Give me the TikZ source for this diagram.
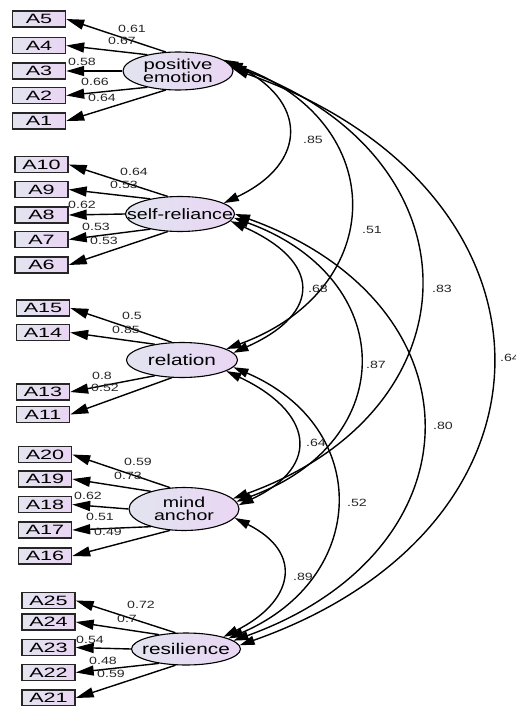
\documentclass[tikz,border=0pt]{standalone}
\usepackage{fontspec}
\setmainfont{Liberation Sans}
\usetikzlibrary{shapes.geometric,arrows.meta}
\newcommand\hs[2]{\scalebox{#1}[1]{#2}}
\definecolor{indL}{RGB}{228,228,240}
\definecolor{indR}{RGB}{233,213,243}
\definecolor{latL}{RGB}{226,228,240}
\definecolor{latR}{RGB}{234,214,244}
\tikzset{
  ind/.style={draw=black!85, line width=1.4pt, left color=indL, right color=indR,
    minimum width=53pt, minimum height=16pt, inner sep=0pt,
    font=\fontsize{13.5}{13}\selectfont},
  lat/.style={ellipse, draw=black, line width=1.1pt, left color=latL, right color=latR, inner sep=0pt},
  lattext/.style={inner sep=0pt, align=center, font=\fontsize{14.5}{14}\selectfont},
  load/.style={line width=1.4pt, -{Triangle[length=18pt,width=10pt]}},
  cov/.style={line width=1.4pt, {Triangle[length=15pt,width=9pt]}-{Triangle[length=15pt,width=9pt]}},
  lbl/.style={inner sep=0pt, font=\fontsize{10.5}{12}\selectfont, text=black!85},
}
\begin{document}
\begin{tikzpicture}[x=1pt, y=-1pt]
\useasboundingbox (0,0) rectangle (515,706);

% latent variables
\node[lat, minimum width=110pt, minimum height=38pt] (pe) at (178,71) {};
\node[lattext] (pe-t) at (pe) {\hs{1.4}{positive}\\[-0.5pt]\hs{1.35}{emotion}};
\node[lat, minimum width=109pt, minimum height=35pt] (sr) at (180,214) {};
\node[lattext, font=\fontsize{15}{15}\selectfont] (sr-t) at (sr) {\hs{1.31}{self-reliance}};
\node[lat, minimum width=111pt, minimum height=35pt] (rel) at (182,360) {};
\node[lattext, font=\fontsize{15.5}{15}\selectfont] (rel-t) at (rel) {\hs{1.34}{relation}};
\node[lat, minimum width=110pt, minimum height=43pt] (ma) at (184,509) {};
\node[lattext] (ma-t) at (ma) {\hs{1.35}{mind}\\[-0.5pt]\hs{1.35}{anchor}};
\node[lat, minimum width=109pt, minimum height=32pt] (res) at (186,649) {};
\node[lattext, font=\fontsize{15.5}{15}\selectfont] (res-t) at (res) {\hs{1.34}{resilience}};

% indicators
\node[ind] (a5) at (39,19) {\hs{1.6}{A5}};
\node[ind] (a4) at (39,45.5) {\hs{1.6}{A4}};
\node[ind] (a3) at (39,71) {\hs{1.6}{A3}};
\node[ind] (a2) at (39,95.5) {\hs{1.6}{A2}};
\node[ind] (a1) at (39,121) {\hs{1.6}{A1}};

\node[ind] (a10) at (41.5,164.5) {\hs{1.6}{A10}};
\node[ind] (a9) at (41.5,189.5) {\hs{1.6}{A9}};
\node[ind] (a8) at (41.5,215) {\hs{1.6}{A8}};
\node[ind] (a7) at (41.5,239.5) {\hs{1.6}{A7}};
\node[ind] (a6) at (41.5,265) {\hs{1.6}{A6}};

\node[ind] (a15) at (43,308) {\hs{1.6}{A15}};
\node[ind] (a14) at (43,332.5) {\hs{1.6}{A14}};
\node[ind] (a13) at (43,392) {\hs{1.6}{A13}};
\node[ind] (a11) at (43,414.5) {\hs{1.6}{A11}};

\node[ind] (a20) at (45,454.5) {\hs{1.6}{A20}};
\node[ind] (a19) at (45,479) {\hs{1.6}{A19}};
\node[ind] (a18) at (45,504.5) {\hs{1.6}{A18}};
\node[ind] (a17) at (45,530) {\hs{1.6}{A17}};
\node[ind] (a16) at (45,556) {\hs{1.6}{A16}};

\node[ind] (a25) at (48.5,600.5) {\hs{1.6}{A25}};
\node[ind] (a24) at (48.5,622) {\hs{1.6}{A24}};
\node[ind] (a23) at (48.5,647.5) {\hs{1.6}{A23}};
\node[ind] (a22) at (48.5,672.5) {\hs{1.6}{A22}};
\node[ind] (a21) at (48.5,698) {\hs{1.6}{A21}};

% factor loadings
\draw[load] (pe.123) -- (a5.east);
\draw[load] (pe.152) -- (a4.east);
\draw[load] (pe.180) -- (a3.east);
\draw[load] (pe.208) -- (a2.east);
\draw[load] (pe.237) -- (a1.east);

\draw[load] (sr.125) -- (a10.east);
\draw[load] (sr.153) -- (a9.east);
\draw[load] (sr.180) -- (a8.east);
\draw[load] (sr.207) -- (a7.east);
\draw[load] (sr.235) -- (a6.east);

\draw[load] (rel.120) -- (a15.east);
\draw[load] (rel.150) -- (a14.east);
\draw[load] (rel.210) -- (a13.east);
\draw[load] (rel.240) -- (a11.east);

\draw[load] (ma.123) -- (a20.east);
\draw[load] (ma.152) -- (a19.east);
\draw[load] (ma.180) -- (a18.east);
\draw[load] (ma.208) -- (a17.east);
\draw[load] (ma.237) -- (a16.east);

\draw[load] (res.123) -- (a25.east);
\draw[load] (res.152) -- (a24.east);
\draw[load] (res.180) -- (a23.east);
\draw[load] (res.208) -- (a22.east);
\draw[load] (res.237) -- (a21.east);

% loading values
\node[lbl] (l5) at (132,29) {\hs{1.35}{0.61}};
\node[lbl] (l4) at (122,41) {\hs{1.35}{0.67}};
\node[lbl] (l3) at (82,62) {\hs{1.35}{0.58}};
\node[lbl] (l2) at (95,82) {\hs{1.35}{0.66}};
\node[lbl] (l1) at (102,98) {\hs{1.35}{0.64}};

\node[lbl] (l10) at (134,172) {\hs{1.35}{0.64}};
\node[lbl] (l9) at (124,185) {\hs{1.35}{0.53}};
\node[lbl] (l8) at (82,205) {\hs{1.35}{0.62}};
\node[lbl] (l7) at (96,227) {\hs{1.35}{0.53}};
\node[lbl] (l6) at (104,241) {\hs{1.35}{0.53}};

\node[lbl] (l15) at (132,316) {\hs{1.35}{0.5}};
\node[lbl] (l14) at (126,330) {\hs{1.35}{0.85}};
\node[lbl] (l13) at (102,376) {\hs{1.35}{0.8}};
\node[lbl] (l11) at (105,388) {\hs{1.35}{0.52}};

\node[lbl] (l20) at (138,462) {\hs{1.35}{0.59}};
\node[lbl] (l19) at (128,476) {\hs{1.35}{0.73}};
\node[lbl] (l18) at (88,496) {\hs{1.35}{0.62}};
\node[lbl] (l17) at (100,517) {\hs{1.35}{0.51}};
\node[lbl] (l16) at (108,532) {\hs{1.35}{0.49}};

\node[lbl] (l25) at (141,605) {\hs{1.35}{0.72}};
\node[lbl] (l24) at (127,619) {\hs{1.35}{0.7}};
\node[lbl] (l23) at (90,640) {\hs{1.35}{0.54}};
\node[lbl] (l22) at (103,661) {\hs{1.35}{0.48}};
\node[lbl] (l21) at (111,674) {\hs{1.35}{0.59}};

% correlations between factors
\draw[cov] (pe.14) .. controls +(85,40) and +(85,-40) .. (sr.14);
\draw[cov] (pe.10) .. controls +(163,60) and +(163,-60) .. (rel.14);
\draw[cov] (pe.6) .. controls +(250,90) and +(250,-90) .. (ma.12);
\draw[cov] (pe.2) .. controls +(340,120) and +(340,-120) .. (res.4);

\draw[cov] (sr.-8) .. controls +(90,40) and +(90,-40) .. (rel.8);
\draw[cov] (sr.-4) .. controls +(165,60) and +(165,-60) .. (ma.8);
\draw[cov] (sr.0) .. controls +(250,90) and +(250,-90) .. (res.10);

\draw[cov] (rel.-14) .. controls +(85,40) and +(85,-40) .. (ma.4);
\draw[cov] (rel.-8) .. controls +(140,60) and +(140,-60) .. (res.14);

\draw[cov] (ma.-10) .. controls +(70,35) and +(70,-35) .. (res.18);

\node[lbl] (c1) at (313,140) {\hs{1.35}{.85}};
\node[lbl] (c2) at (372,230) {\hs{1.35}{.51}};
\node[lbl] (c3) at (442,289) {\hs{1.35}{.83}};
\node[lbl] (c4) at (510,358) {\hs{1.35}{.64}};
\node[lbl] (c5) at (318,289) {\hs{1.35}{.68}};
\node[lbl] (c6) at (376,365) {\hs{1.35}{.87}};
\node[lbl] (c7) at (443,426) {\hs{1.35}{.80}};
\node[lbl] (c8) at (316,443) {\hs{1.35}{.64}};
\node[lbl] (c9) at (357,503) {\hs{1.35}{.52}};
\node[lbl] (c10) at (303,577) {\hs{1.35}{.89}};
\end{tikzpicture}
\end{document}
